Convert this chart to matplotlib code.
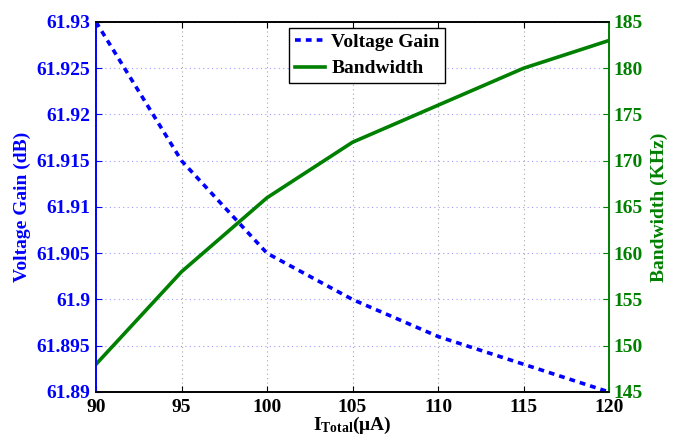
import matplotlib
matplotlib.use("Agg")
import matplotlib.pyplot as plt

current_uA = [90, 95, 100, 105, 110, 115, 120]
voltage_gain_dB = [61.930, 61.915, 61.905, 61.900, 61.896, 61.893, 61.890]
bandwidth_kHz = [148, 158, 166, 172, 176, 180, 183]

x_ticks = [90, 95, 100, 105, 110, 115, 120]
gain_ticks = [61.89, 61.895, 61.90, 61.905, 61.91, 61.915, 61.92, 61.925, 61.93]
gain_tick_labels = ["61.89", "61.895", "61.9", "61.905", "61.91", "61.915", "61.92", "61.925", "61.93"]
bw_ticks = [145, 150, 155, 160, 165, 170, 175, 180, 185]

plt.rcParams['font.family'] = ['Liberation Serif', 'DejaVu Serif']
plt.rcParams['font.weight'] = 'bold'
plt.rcParams['mathtext.fontset'] = 'custom'
plt.rcParams['mathtext.rm'] = 'Liberation Serif:bold'
plt.rcParams['mathtext.bf'] = 'Liberation Serif:bold'
plt.rcParams['mathtext.it'] = 'Liberation Serif:bold'

BLUE = (0, 0, 1)
GREEN = (0, 0.5, 0)
FS = 14

fig = plt.figure(figsize=(6.83, 4.37), dpi=100)
ax = fig.add_axes([0.1406, 0.103, 0.7511, 0.8467])
ax2 = ax.twinx()

l1, = ax.plot(current_uA, voltage_gain_dB, color=BLUE, lw=2.6,
              linestyle=(0, (1.6, 1.4)), label='Voltage Gain', dash_capstyle='butt')
l2, = ax2.plot(current_uA, bandwidth_kHz, color=GREEN, lw=2.6, label='Bandwidth')

ax.set_xlim(90, 120)
ax.set_ylim(61.89, 61.93)
ax2.set_ylim(145, 185)
ax.set_xticks(x_ticks)
ax.set_xticklabels([str(v) for v in x_ticks], fontsize=FS, fontweight='bold')
ax.set_yticks(gain_ticks)
ax.set_yticklabels(gain_tick_labels, fontsize=FS, fontweight='bold', color=BLUE)
ax2.set_yticks(bw_ticks)
ax2.set_yticklabels([str(v) for v in bw_ticks], fontsize=FS, fontweight='bold', color=GREEN)

ax.tick_params(axis='x', direction='in', length=4, pad=5, colors='black')
ax.tick_params(axis='y', direction='in', length=4, pad=4, colors=BLUE)
ax2.tick_params(axis='y', direction='in', length=4, pad=3, colors=GREEN)
ax.tick_params(axis='x', top=True)

for a in (ax, ax2):
    a.spines['left'].set_color(BLUE)
    a.spines['right'].set_color(GREEN)
    a.spines['top'].set_color('black')
    a.spines['bottom'].set_color('black')
    for s in a.spines.values():
        s.set_linewidth(1.2)

ax.yaxis.grid(True, linestyle=(0, (1, 3)), color=BLUE, alpha=0.4, lw=0.8)
ax.xaxis.grid(True, linestyle=(0, (1, 3)), color='gray', alpha=0.7, lw=0.8)
ax.set_axisbelow(True)

ax.set_ylabel('Voltage Gain (dB)', fontsize=FS, fontweight='bold', color=BLUE, labelpad=4)
ax2.set_ylabel('Bandwidth (KHz)', fontsize=FS, fontweight='bold', color=GREEN, labelpad=6)
ax.set_xlabel(r'$\mathregular{I_{Total}}$(μA)', fontsize=FS, fontweight='bold', labelpad=-1)

leg = ax2.legend(handles=[l1, l2], loc='upper center', bbox_to_anchor=(0.529, 0.985),
                 fontsize=FS, frameon=True, fancybox=False, edgecolor='black',
                 handlelength=1.55, handletextpad=0.3, borderpad=0.3, labelspacing=0.45,
                 borderaxespad=0)
leg.get_frame().set_linewidth(1.0)
leg.get_frame().set_alpha(1)

fig.savefig('out.png', dpi=100)
